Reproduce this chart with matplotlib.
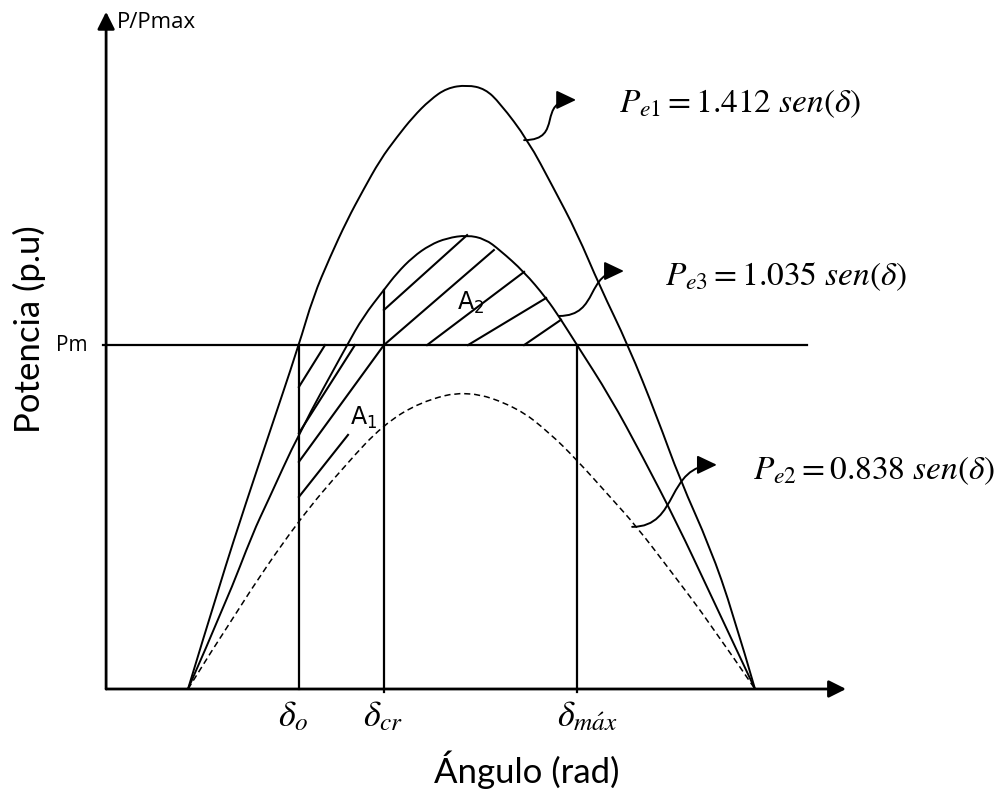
import matplotlib.pyplot as plt
from matplotlib.path import Path
from matplotlib.patches import FancyArrowPatch, ArrowStyle, PathPatch

# curves: angle in degrees, power in p.u.
pe1_ang = [0, 10.2, 18.7, 25.1, 35.2, 39.7, 45.1, 50.5, 55.6, 61.0, 66.3, 71.4, 76.8,
           82.2, 88.6, 94.3, 99.0, 107.9, 115.9, 123.5, 130.8, 139.7, 148.9, 156.2,
           165.7, 173.0, 180]
pe1_pow = [0, 0.248, 0.442, 0.582, 0.804, 0.916, 1.010, 1.096, 1.166, 1.237, 1.290,
           1.337, 1.377, 1.405, 1.412, 1.403, 1.370, 1.283, 1.173, 1.066, 0.940, 0.804,
           0.636, 0.489, 0.332, 0.178, 0]

pe3_ang = [0, 12.4, 20.6, 25.1, 35.2, 50.5, 55.6, 62.2, 66.3, 71.4, 76.8, 82.2, 88.6,
           94.3, 99.0, 106.7, 113.7, 118.1, 123.5, 134.0, 144.4, 155.2, 165.7, 180]
pe3_pow = [0, 0.208, 0.365, 0.435, 0.598, 0.804, 0.870, 0.933, 0.972, 1.010, 1.038,
           1.054, 1.061, 1.052, 1.026, 0.975, 0.914, 0.867, 0.804, 0.683, 0.542, 0.388,
           0.224, 0]

pe2_ang = [0, 15.6, 34.9, 50.5, 61.9, 73.7, 88.6, 104.4, 114.9, 123.5, 134.0, 142.5,
           153.0, 165.7, 180]
pe2_pow = [0, 0.185, 0.393, 0.528, 0.617, 0.671, 0.699, 0.659, 0.598, 0.535, 0.449,
           0.379, 0.278, 0.154, 0]

pm = 0.804
d_o, d_cr, d_max = 35.2, 62.2, 123.5
pe3_at_dcr = 0.933

# hatching of areas A1 and A2: (start, end) in (deg, p.u.)
hatch_a1 = [((35.2, 0.706), (43.5, pm)),
            ((35.2, 0.598), (53.0, pm)),
            ((35.2, 0.531), (62.2, pm)),
            ((35.2, 0.449), (50.8, 0.594))]
hatch_a2 = [((62.2, 0.886), (88.6, 1.061)),
            ((62.2, pm), (97.1, 1.026)),
            ((75.9, pm), (106.7, 0.975)),
            ((88.9, pm), (113.7, 0.914)),
            ((106.7, pm), (118.4, 0.863))]

curve_labels = [r'$P_{e1} = 1.412\ sen(\delta)$',
                r'$P_{e3} = 1.035\ sen(\delta)$',
                r'$P_{e2} = 0.838\ sen(\delta)$']
delta_labels = [r'$\delta_o$', r'$\delta_{cr}$', r'$\delta_{m\acute{a}x}$']

# layout: sketch scale (pixels per degree / per p.u.), origin of the curves in pixels
PX_DEG, PX_PU = 3.15, 427.8
X0, Y0 = 188, 689
W, H = 997, 795


def smooth(xs, ys):
    # quadratic spline path with the read points as control points
    pts = list(zip(xs, ys))
    verts, codes = [pts[0]], [Path.MOVETO]
    for i in range(1, len(pts) - 2):
        mid = ((pts[i][0] + pts[i + 1][0]) / 2, (pts[i][1] + pts[i + 1][1]) / 2)
        verts += [pts[i], mid]
        codes += [Path.CURVE3, Path.CURVE3]
    verts += [pts[-2], pts[-1]]
    codes += [Path.CURVE3, Path.CURVE3]
    return Path(verts, codes)


fig = plt.figure(figsize=(W / 100, H / 100), dpi=100)
ax = fig.add_axes([0, 0, 1, 1])
ax.set_xlim(-X0 / PX_DEG, (W - X0) / PX_DEG)
ax.set_ylim(-(H - Y0) / PX_PU, Y0 / PX_PU)
ax.axis('off')

yax = -26.0
# axes with arrows
ax.annotate('', xy=(208.9, 0), xytext=(yax, 0),
            arrowprops=dict(arrowstyle='-|>', lw=2, color='k', mutation_scale=26,
                            shrinkA=0, shrinkB=0))
ax.annotate('', xy=(yax, 1.583), xytext=(yax, 0),
            arrowprops=dict(arrowstyle='-|>', lw=2, color='k', mutation_scale=26,
                            shrinkA=0, shrinkB=0))

ax.add_patch(PathPatch(smooth(pe1_ang, pe1_pow), fill=False, ec='k', lw=1.4))
ax.add_patch(PathPatch(smooth(pe3_ang, pe3_pow), fill=False, ec='k', lw=1.4))
ax.add_patch(PathPatch(smooth(pe2_ang, pe2_pow), fill=False, ec='k', lw=1.1,
                       linestyle=(0, (4, 2.5))))

ax.plot([-27.0, 196.5], [pm, pm], color='k', lw=1.6)
ax.plot([d_o, d_o], [0, pm], color='k', lw=1.6)
ax.plot([d_cr, d_cr], [-0.007, pe3_at_dcr], color='k', lw=1.6)
ax.plot([d_max, d_max], [-0.007, pm], color='k', lw=1.6)

for (a, b) in hatch_a1 + hatch_a2:
    ax.plot([a[0], b[0]], [a[1], b[1]], color='k', lw=1.5)

# wavy pointers to the formulas
pointers = [[(106.7, 1.283), (119.7, 1.283), (110.2, 1.377), (123.2, 1.377)],
            [(117.8, 0.872), (130.8, 0.872), (126.0, 0.977), (138.4, 0.977)],
            [(141.0, 0.379), (156.2, 0.379), (151.4, 0.524), (167.9, 0.524)]]
codes = [Path.MOVETO, Path.CURVE4, Path.CURVE4, Path.CURVE4]
for verts in pointers:
    ax.add_patch(FancyArrowPatch(path=Path(verts, codes),
                                 arrowstyle=ArrowStyle('-|>', head_length=0.8, head_width=0.38),
                                 mutation_scale=15, lw=1.4, color='k'))

for txt, (x, y) in zip(curve_labels, [(136.9, 1.3675), (151.4, 0.9654), (179.5, 0.5096)]):
    ax.text(x, y, txt, fontsize=24, ha='left', va='center', math_fontfamily='stix')

for txt, x in zip(delta_labels, [33.3, 61.9, 126.7]):
    ax.text(x, -0.063, txt, fontsize=26, ha='center', va='center', math_fontfamily='stix')

ax.text(51.4, 0.617, r'A$_\mathregular{1}$', fontsize=17, family='DejaVu Sans',
        ha='left', va='baseline')
ax.text(85.4, 0.886, r'A$_\mathregular{2}$', fontsize=17, family='DejaVu Sans',
        ha='left', va='baseline')

ax.text(-31.8, pm, 'Pm', fontsize=15, family='Open Sans', ha='right', va='center')
ax.text(-22.5, 1.559, 'P/Pmax', fontsize=16, family='Open Sans', ha='left', va='center')
ax.text(-50.2, 0.841, 'Potencia (p.u)', fontsize=25, family='Lato', rotation=90,
        ha='center', va='center')
ax.text(107.6, -0.189, 'Ángulo (rad)', fontsize=25, family='Lato',
        ha='center', va='center')

fig.savefig('out.png', dpi=100)
